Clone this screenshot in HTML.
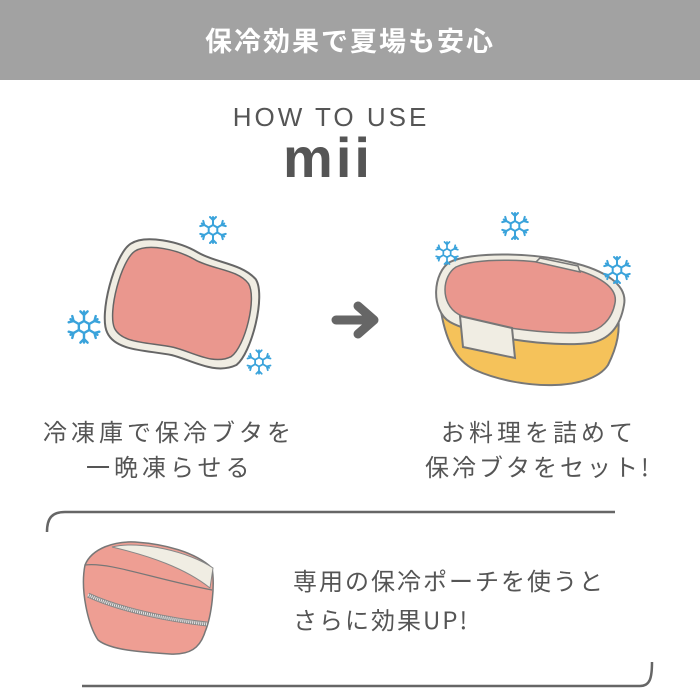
<!DOCTYPE html>
<html><head><meta charset="utf-8"><style>
html,body{margin:0;padding:0;background:#fff}
body{width:700px;height:700px;overflow:hidden;position:relative;font-family:"Liberation Sans","Noto Sans CJK JP",sans-serif}
.t{position:absolute;color:#555;font-size:24px;letter-spacing:4px;white-space:nowrap;font-family:"Noto Sans CJK JP",sans-serif}
</style></head><body>
<div style="position:absolute;left:0;top:0;width:700px;height:80px;background:#a2a2a2"></div>
<div style="position:absolute;left:0;top:22px;width:700px;text-align:center;color:#fff;font-size:27px;font-weight:bold;letter-spacing:2px;font-family:'Noto Sans CJK JP',sans-serif;line-height:36px">保冷効果で夏場も安心</div>
<div style="position:absolute;left:0;top:102px;width:656px;text-align:center;color:#555;font-size:26px;letter-spacing:3px;line-height:30px;padding-left:3px">HOW TO USE</div>
<div style="position:absolute;left:0;top:128px;width:656px;text-align:center;color:#555;font-size:56px;font-weight:bold;letter-spacing:3px;line-height:60px">mii</div>

<svg width="700" height="700" style="position:absolute;left:0;top:0">
<defs>
<g id="sf" stroke="#3aa3db" stroke-width="2" fill="none" stroke-linecap="round">
<polygon points="0,-5 4.3,-2.5 4.3,2.5 0,5 -4.3,2.5 -4.3,-2.5"/>
<g id="arm"><line x1="0" y1="-5" x2="0" y2="-13"/><line x1="0" y1="-10" x2="-3" y2="-13"/><line x1="0" y1="-10" x2="3" y2="-13"/></g>
<use href="#arm" transform="rotate(60)"/><use href="#arm" transform="rotate(120)"/><use href="#arm" transform="rotate(180)"/><use href="#arm" transform="rotate(240)"/><use href="#arm" transform="rotate(300)"/>
</g>
</defs>
<!-- left tray -->
<g transform="rotate(14 182 302)">
<path d="M118,258 C130,245 165,244 185,250 C205,256 230,250 248,262 C262,275 262,335 250,350 C232,365 205,356 185,356 C160,357 130,366 117,350 C104,335 105,272 118,258 Z" fill="#f0ede3" stroke="#666" stroke-width="2"/>
<path d="M124,264 C135,253 165,252 185,258 C205,263 228,257 242,268 C254,280 254,330 243,343 C228,356 205,348 185,348 C160,349 134,357 123,344 C112,330 113,276 124,264 Z" fill="#ea978e" stroke="#666" stroke-width="1.5"/>
</g>
<use href="#sf" transform="translate(213,230)"/>
<use href="#sf" transform="translate(84,327) scale(1.2)"/>
<use href="#sf" transform="translate(259,362) scale(0.9)"/>
<!-- arrow -->
<path d="M336,320 H372 M358,306 L374,320 L358,334" stroke="#666" stroke-width="9" fill="none" stroke-linecap="round" stroke-linejoin="round"/>
<!-- right box -->
<path d="M440,305 C445,340 455,360 475,370 C520,390 590,392 608,365 C618,345 620,330 618,315 Z" fill="#f5c25a" stroke="#777" stroke-width="2"/>
<path d="M450,262 C470,252 530,252 570,262 C605,270 628,285 624,305 C620,328 608,340 590,343 C550,348 475,336 450,322 C430,310 433,272 450,262 Z" fill="#f0ede3" stroke="#777" stroke-width="2"/>
<path d="M456,267 C475,258 530,258 566,267 C600,275 618,288 615,303 C612,320 600,330 588,332 C553,336 478,326 458,314 C440,303 442,276 456,267 Z" fill="#ea978e" stroke="#777" stroke-width="1.5"/>
<path d="M536,262 L540,258 L578,266 L580,272 Z" fill="#f0ede3" stroke="#777" stroke-width="1.5"/>
<path d="M460,316 L512,328 L515,358 L463,347 Z" fill="#f0ede3" stroke="#777" stroke-width="2"/>
<use href="#sf" transform="translate(515,226)"/>
<use href="#sf" transform="translate(447,253) scale(0.85)"/>
<use href="#sf" transform="translate(617,270)"/>
<!-- bracket -->
<path d="M47,532 C47,518 52,512 65,512 H615" stroke="#666" stroke-width="2.5" fill="none"/>
<path d="M82,686 H640 C650,686 652,678 652,662" stroke="#666" stroke-width="2.5" fill="none"/>
<!-- pouch -->
<path d="M85,565 C92,548 115,541 135,542 C165,544 195,552 212,568 C215,585 212,615 205,632 C200,648 190,655 170,654 C140,652 110,650 98,640 C88,625 80,590 85,565 Z" fill="#ee9e93" stroke="#777" stroke-width="1.5"/>
<path d="M85,565 C110,562 150,578 212,590" stroke="#777" stroke-width="1.2" fill="none"/>
<path d="M112,547 C140,540 190,552 213,568 L210,588 C185,568 150,556 112,547 Z" fill="#f0ede3" stroke="#888" stroke-width="1"/>
<path d="M88,595 C120,610 170,620 207,624" stroke="#888" stroke-width="5" fill="none"/>
<path d="M88,595 C120,610 170,620 207,624" stroke="#e8e8e8" stroke-width="3" stroke-dasharray="1 1" fill="none"/>
</svg>

<div class="t" style="left:43px;top:413px">冷凍庫で保冷ブタを</div>
<div class="t" style="left:86px;top:448px">一晩凍らせる</div>
<div class="t" style="left:441px;top:413px">お料理を詰めて</div>
<div class="t" style="left:425px;top:448px;letter-spacing:3px">保冷ブタをセット!</div>
<div class="t" style="left:293px;top:562px;letter-spacing:2px">専用の保冷ポーチを使うと</div>
<div class="t" style="left:293px;top:601px;letter-spacing:2px">さらに効果UP!</div>
</body></html>
